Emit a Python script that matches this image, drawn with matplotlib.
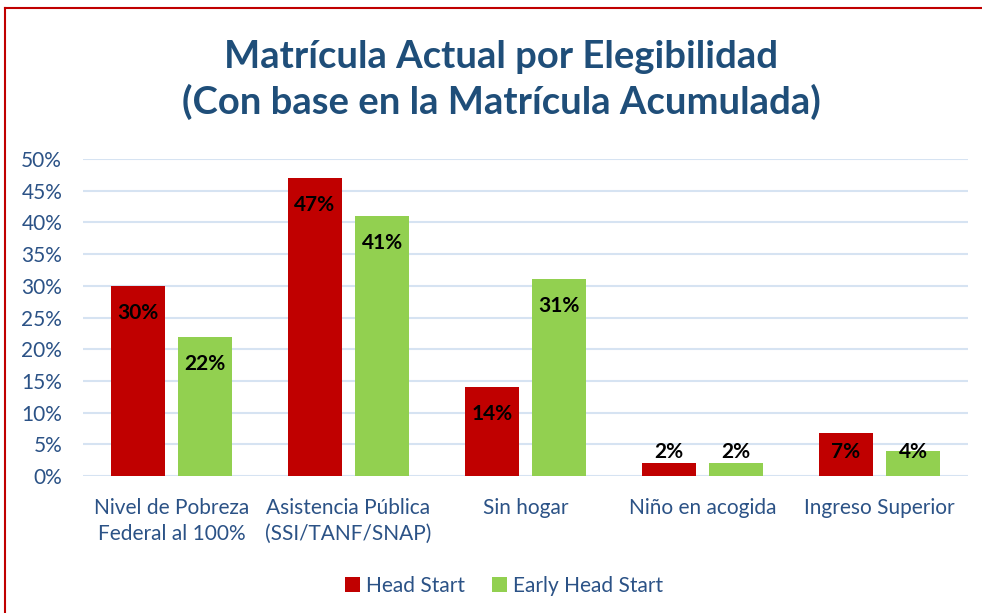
import matplotlib
matplotlib.use("Agg")
import matplotlib.pyplot as plt
from matplotlib.lines import Line2D
from matplotlib.patches import Patch
import numpy as np

plt.rcParams['font.family'] = ['Lato', 'DejaVu Sans']

categories = ["Nivel de Pobreza\nFederal al 100%", "Asistencia Pública\n(SSI/TANF/SNAP)",
              "Sin hogar", "Niño en acogida", "Ingreso Superior"]
series_names = ["Head Start", "Early Head Start"]
head_start = [30, 47, 14, 2, 6.8]
early_head_start = [22, 41, 31, 2, 4]
head_start_labels = ["30%", "47%", "14%", "2%", "7%"]
early_head_start_labels = ["22%", "41%", "31%", "2%", "4%"]
y_ticks = [0, 5, 10, 15, 20, 25, 30, 35, 40, 45, 50]
y_tick_labels = ["0%", "5%", "10%", "15%", "20%", "25%", "30%", "35%", "40%", "45%", "50%"]
title = "Matrícula Actual por Elegibilidad\n(Con base en la Matrícula Acumulada)"

RED = "#C00000"
GREEN = "#92D050"
TEXT = "#2B5286"
TITLE = "#1F4E79"
GRID = "#D6E3F2"

W, H = 982, 613
fig = plt.figure(figsize=(W / 100, H / 100), dpi=100)
fig.patch.set_facecolor("white")

ax = fig.add_axes([83 / W, (H - 476) / H, 885 / W, (476 - 159) / H])
x = np.arange(len(categories))
bw = 0.305
off = 0.19
ax.bar(x - off, head_start, bw, color=RED, zorder=3, label=series_names[0])
ax.bar(x + off, early_head_start, bw, color=GREEN, zorder=3, label=series_names[1])

ax.set_xlim(-0.5, len(categories) - 0.5)
ax.set_ylim(0, 50)
ax.set_yticks(y_ticks)
ax.set_yticklabels(y_tick_labels, color=TEXT, fontsize=15)
ax.set_xticks(x)
ax.set_xticklabels(categories, color=TEXT, fontsize=15, linespacing=1.38)
ax.tick_params(axis='both', length=0)
ax.tick_params(axis='x', pad=16)
ax.tick_params(axis='y', pad=15)
for s in ax.spines.values():
    s.set_visible(False)
ax.grid(axis='y', color=GRID, linewidth=1.5, zorder=0)
ax.set_axisbelow(True)

px_per_unit = (476 - 159) / 50.0
shift = 27 / px_per_unit
min_y = 3.8
for xs, vals, labs in [(x - off, head_start, head_start_labels),
                       (x + off, early_head_start, early_head_start_labels)]:
    for xi, v, lab in zip(xs, vals, labs):
        yy = max(v - shift, min_y)
        ax.text(xi, yy, lab, ha='center', va='center', fontsize=15,
                fontweight='bold', color='black', zorder=4)

fig.text(501 / W, 1 - 80 / H, title, ha='center', va='center', fontsize=27.5,
         fontweight='bold', color=TITLE, linespacing=1.33)

handles = [Patch(facecolor=RED), Patch(facecolor=GREEN)]
fig.legend(handles, series_names, loc='center', bbox_to_anchor=(504 / W, 1 - 586 / H),
           ncol=2, frameon=False, fontsize=15, labelcolor=TEXT,
           handlelength=0.7, handleheight=0.7, handletextpad=0.3, columnspacing=1.3)

fig.add_artist(Line2D([5 / W, 1.0], [1 - 8 / H, 1 - 8 / H], color=RED, linewidth=1.5,
                      transform=fig.transFigure))
fig.add_artist(Line2D([5 / W, 5 / W], [1 - 8 / H, 0], color=RED, linewidth=1.5,
                      transform=fig.transFigure))

fig.savefig("out.png", dpi=100)
